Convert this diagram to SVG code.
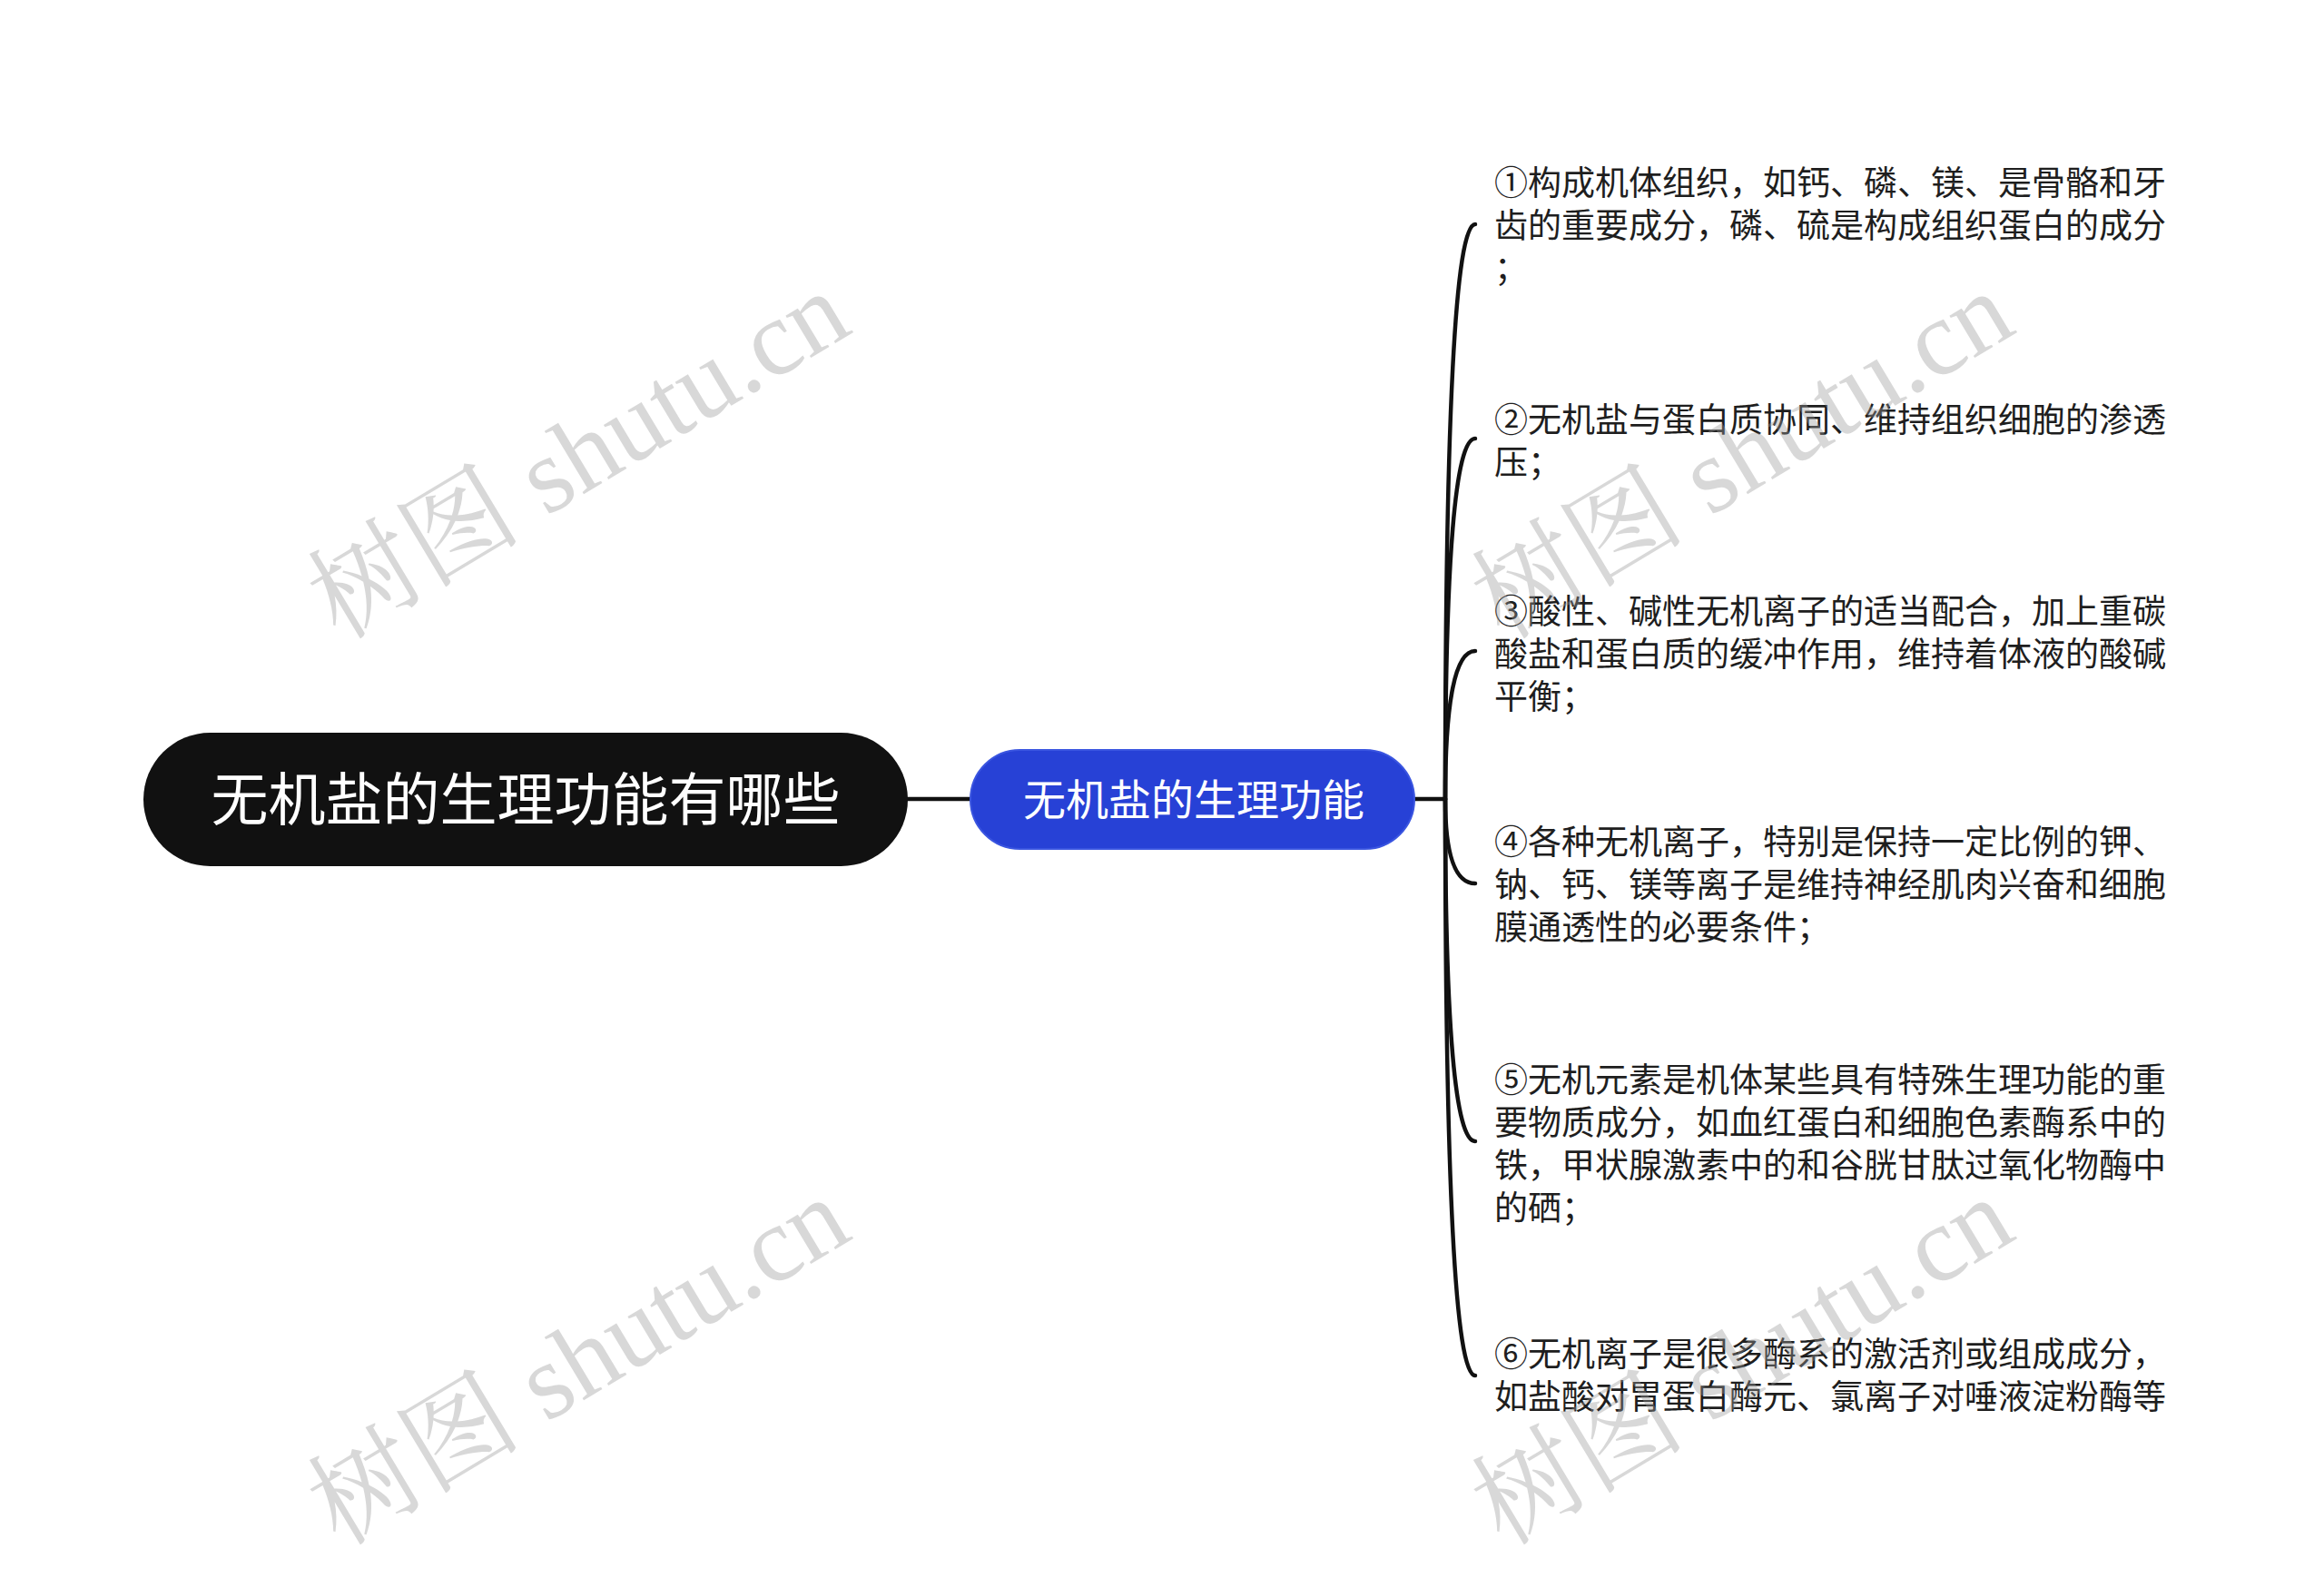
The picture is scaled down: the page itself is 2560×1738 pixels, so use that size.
<svg xmlns="http://www.w3.org/2000/svg" width="2560" height="1738" viewBox="0 0 2560 1738">
<style>
.conn{fill:none;stroke:#111;stroke-width:4.5;stroke-linecap:round}
.leaf{font-family:"Noto Sans CJK SC","Noto Sans",sans-serif;font-size:37px;fill:#1e1e1e}
.wm{font-family:"Liberation Serif","Noto Serif CJK SC","Noto Sans CJK SC",serif;font-size:118px;fill:#9a9a9a;opacity:0.38}
</style>
<rect width="2560" height="1738" fill="#ffffff"/>
<g id="connectors">
<line class="conn" x1="1000" y1="880" x2="1069" y2="880" stroke-width="5"/>
<line class="conn" x1="1558" y1="880" x2="1592" y2="880" stroke-width="5"/>
<path class="conn" d="M1592 880 Q1592 247 1625 247"/>
<path class="conn" d="M1592 880 Q1592 483 1625 483"/>
<path class="conn" d="M1592 880 Q1592 717 1625 717"/>
<path class="conn" d="M1592 880 Q1592 973 1625 973"/>
<path class="conn" d="M1592 880 Q1592 1257 1625 1257"/>
<path class="conn" d="M1592 880 Q1592 1515 1625 1515"/>
</g>
<g id="root">
<rect x="158" y="807" width="842" height="147" rx="73.5" fill="#111111"/>
<text x="579" y="903" text-anchor="middle" font-family="Noto Sans CJK SC, sans-serif" font-size="63" fill="#ffffff">无机盐的生理功能有哪些</text>
</g>
<g id="main">
<rect x="1069" y="826" width="489" height="109" rx="54.5" fill="#2741d6" stroke="#3a55e0" stroke-width="2"/>
<text x="1315" y="898" text-anchor="middle" font-family="Noto Sans CJK SC, sans-serif" font-size="47" fill="#ffffff">无机盐的生理功能</text>
</g>
<g id="leaf1">
<text class="leaf" x="1646" y="215">①构成机体组织，如钙、磷、镁、是骨骼和牙</text>
<text class="leaf" x="1646" y="262">齿的重要成分，磷、硫是构成组织蛋白的成分</text>
<text class="leaf" x="1646" y="309">；</text>
</g>
<g id="leaf2">
<text class="leaf" x="1646" y="476">②无机盐与蛋白质协同、维持组织细胞的渗透</text>
<text class="leaf" x="1646" y="523">压；</text>
</g>
<g id="leaf3">
<text class="leaf" x="1646" y="687">③酸性、碱性无机离子的适当配合，加上重碳</text>
<text class="leaf" x="1646" y="734">酸盐和蛋白质的缓冲作用，维持着体液的酸碱</text>
<text class="leaf" x="1646" y="781">平衡；</text>
</g>
<g id="leaf4">
<text class="leaf" x="1646" y="941">④各种无机离子，特别是保持一定比例的钾、</text>
<text class="leaf" x="1646" y="988">钠、钙、镁等离子是维持神经肌肉兴奋和细胞</text>
<text class="leaf" x="1646" y="1035">膜通透性的必要条件；</text>
</g>
<g id="leaf5">
<text class="leaf" x="1646" y="1203">⑤无机元素是机体某些具有特殊生理功能的重</text>
<text class="leaf" x="1646" y="1250">要物质成分，如血红蛋白和细胞色素酶系中的</text>
<text class="leaf" x="1646" y="1297">铁，甲状腺激素中的和谷胱甘肽过氧化物酶中</text>
<text class="leaf" x="1646" y="1344">的硒；</text>
</g>
<g id="leaf6">
<text class="leaf" x="1646" y="1505">⑥无机离子是很多酶系的激活剂或组成成分，</text>
<text class="leaf" x="1646" y="1552">如盐酸对胃蛋白酶元、氯离子对唾液淀粉酶等</text>
</g>
<g id="watermarks">
<text class="wm" transform="translate(374 706) rotate(-31)">树图 shutu.cn</text>
<text class="wm" transform="translate(1656 706) rotate(-31)">树图 shutu.cn</text>
<text class="wm" transform="translate(374 1704) rotate(-31)">树图 shutu.cn</text>
<text class="wm" transform="translate(1656 1704) rotate(-31)">树图 shutu.cn</text>
</g>
</svg>
